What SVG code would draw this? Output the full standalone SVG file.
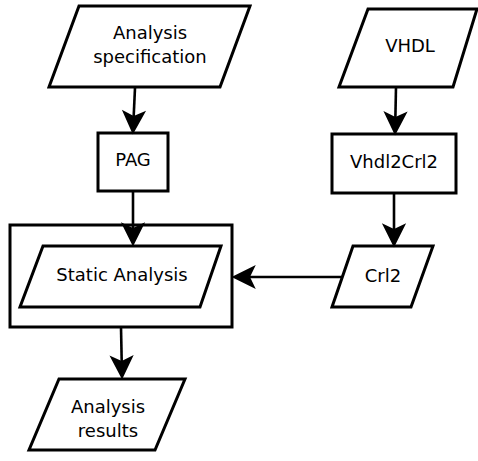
<svg xmlns="http://www.w3.org/2000/svg" width="478" height="461" viewBox="0 0 478 461">
<style>
.shape{fill:#fff;stroke:#000;stroke-width:3;stroke-linejoin:miter}
.conn{fill:none;stroke:#000;stroke-width:2.6}
text{font-family:"DejaVu Sans",sans-serif;font-size:18px;fill:#000;text-anchor:middle}
</style>
<defs>
<marker id="arr" markerUnits="userSpaceOnUse" markerWidth="30" markerHeight="30" viewBox="-8 -12 26 24" refX="0" refY="0" orient="auto" overflow="visible">
<path d="M16,0 L-5,-10.5 L0,0 L-5,10.5 Z" fill="#000"/>
</marker>
</defs>
<rect width="478" height="461" fill="#fff"/>
<g id="spec">
<polygon class="shape" points="79,6 250,6 220,87 49,87"/>
<text x="150" y="39">Analysis</text>
<text x="150" y="63">specification</text>
</g>
<g id="pag">
<rect class="shape" x="98" y="133" width="70" height="58"/>
<text x="133" y="166">PAG</text>
</g>
<g id="static">
<rect class="shape" x="10" y="225" width="222" height="102"/>
<polygon class="shape" points="43,246 221,246 200,307 20,307"/>
<text x="122" y="281">Static Analysis</text>
</g>
<g id="results">
<polygon class="shape" points="59,379 185,379 155,450 29,450"/>
<text x="108" y="413">Analysis</text>
<text x="108" y="437">results</text>
</g>
<g id="vhdl">
<polygon class="shape" points="368,9 477,9 453,87 339,87"/>
<text x="410" y="52">VHDL</text>
</g>
<g id="vhdl2crl2">
<rect class="shape" x="332" y="134" width="124" height="59"/>
<text x="394" y="168">Vhdl2Crl2</text>
</g>
<g id="crl2">
<polygon class="shape" points="353,246 433,246 411,307 332,307"/>
<text x="383" y="282">Crl2</text>
</g>
<g id="connectors">
<path class="conn" d="M135,88 L133.7,116" marker-end="url(#arr)"/>
<path class="conn" d="M133,191 L133,228" marker-end="url(#arr)"/>
<path class="conn" d="M396,87 L395.4,117" marker-end="url(#arr)"/>
<path class="conn" d="M394,193 L394,229" marker-end="url(#arr)"/>
<path class="conn" d="M343,277 L250,277" marker-end="url(#arr)"/>
<path class="conn" d="M121,327 L121.7,361" marker-end="url(#arr)"/>
</g>
</svg>
